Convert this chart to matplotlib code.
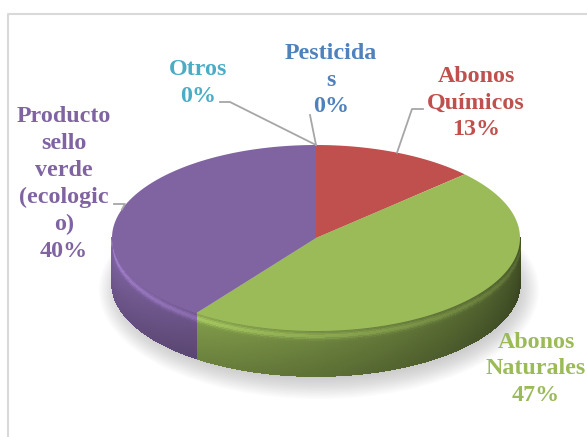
import numpy as np
import matplotlib.pyplot as plt
from matplotlib.patches import Ellipse
from matplotlib.collections import PolyCollection
from matplotlib.colors import to_rgb

plt.rcParams['font.family'] = 'serif'
plt.rcParams['font.serif'] = ['Liberation Serif', 'DejaVu Serif']

# data (slices clockwise from 12 o'clock, as in the Excel chart)
categories = ['Pesticidas', 'Abonos Químicos', 'Abonos Naturales',
              'Producto sello verde (ecologico)', 'Otros']
values = [0, 13, 47, 40, 0]
colors = ['#4F81BD', '#C0504D', '#9BBB59', '#8064A2', '#4BACC6']
# names as Excel wraps them inside the label box
wrapped_names = ['Pesticida\ns', 'Abonos\nQuímicos', 'Abonos\nNaturales',
                 'Producto\nsello\nverde\n(ecologic\no)', 'Otros']

# label layout (pixel coords, y downwards)
label_pos = [(331, 80), (476, 103), (536, 369), (64, 184), (198, 83)]
leader_elbows = [[(310, 115)], [(423, 109), (412, 109)], None,
                 [(114, 204), (125, 204)], [(220, 102), (230, 102)]]

# pie geometry
cx, cy, a, b, depth = 316, 238, 204, 93, 45

fig = plt.figure(figsize=(5.87, 4.37), dpi=100)
ax = fig.add_axes([0, 0, 1, 1])
ax.set_xlim(0, 587)
ax.set_ylim(437, 0)
ax.axis('off')

# chart frame
ax.plot([8, 8, 600], [440, 14, 14], color='#d9d9d9', lw=1.5)


def rim(t):
    return cx + a * np.sin(t), cy - b * np.cos(t)


vals = np.array(values, dtype=float)
frac = vals / vals.sum()
bounds = np.concatenate([[0], np.cumsum(frac)]) * 2 * np.pi

# soft shadow under the pie
for i in range(14):
    ax.add_patch(Ellipse((cx + 3, cy + depth + 7), 2 * (a + 16 - i * 1.6),
                         2 * (b + 16 - i * 1.6), color='#808080', alpha=0.03,
                         lw=0))

# side of the pie (front half only), shaded strips
nb = 30
zs = (np.arange(nb) + 0.5) / nb
band_mult = 1.0 + 0.28 * np.exp(-((zs - 0.13) / 0.07) ** 2) - 0.18 * zs
polys, fcols = [], []
for i in range(len(values)):
    t1 = max(bounds[i], np.pi / 2)
    t2 = min(bounds[i + 1], 3 * np.pi / 2)
    if t2 <= t1:
        continue
    base = np.array(to_rgb(colors[i]))
    ts = np.linspace(t1, t2, max(2, int(np.degrees(t2 - t1) * 2)))
    for k in range(len(ts) - 1):
        ta, tb = ts[k], ts[k + 1]
        s = ((ta + tb) / 2 - np.pi / 2) / np.pi
        m = 0.42 + 0.62 * s
        xa, ya = rim(ta)
        xb, yb = rim(tb)
        for j in range(nb):
            d0 = depth * j / nb
            d1 = depth * (j + 1) / nb
            polys.append([(xa, ya + d0), (xb, yb + d0), (xb, yb + d1), (xa, ya + d1)])
            fcols.append(np.clip(base * m * band_mult[j], 0, 1))
ax.add_collection(PolyCollection(polys, facecolors=fcols, edgecolors=fcols,
                                 lw=0.6, antialiased=False))

# top face
for i in range(len(values)):
    if frac[i] == 0:
        continue
    ts = np.linspace(bounds[i], bounds[i + 1], 200)
    xs, ys = rim(ts)
    ax.fill(np.concatenate([[cx], xs]), np.concatenate([[cy], ys]),
            color=colors[i], lw=0)

# labels and leader lines
total = vals.sum()
for i in range(len(values)):
    pct = f"{round(values[i] / total * 100)}%"
    x, y = label_pos[i]
    ax.text(x, y, wrapped_names[i] + '\n' + pct, ha='center', va='center',
            fontsize=17.3, fontweight='bold', family='Liberation Serif',
            color=colors[i], linespacing=1.36)
    if leader_elbows[i]:
        mid = (bounds[i] + bounds[i + 1]) / 2
        ex, ey = rim(mid)
        pts = leader_elbows[i] + [(ex, ey)]
        ax.plot([p[0] for p in pts], [p[1] for p in pts], color='#a6a6a6', lw=1.3)

fig.savefig('out.png', dpi=100)
